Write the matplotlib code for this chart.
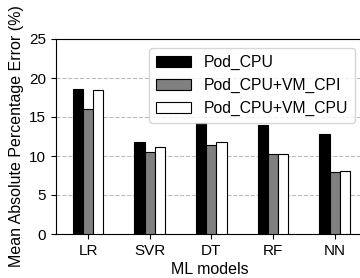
import matplotlib
matplotlib.use("Agg")
from matplotlib import pyplot as plt
import numpy as np

# data
models = ['LR', 'SVR', 'DT', 'RF', 'NN']
pod_cpu = [18.6, 11.8, 14.2, 14.0, 12.8]
pod_cpu_vm_cpi = [16.0, 10.5, 11.4, 10.25, 7.9]
pod_cpu_vm_cpu = [18.45, 11.2, 11.8, 10.2, 8.1]

plt.rcParams['font.family'] = ['Liberation Sans', 'DejaVu Sans']
plt.rcParams['font.size'] = 11

fig = plt.figure(figsize=(3.6, 2.78), dpi=100)
ax = fig.add_axes([56 / 360, 44 / 278, 1.01 - 56 / 360, 195 / 278])

x = np.arange(len(models))
w = 0.165
ax.bar(x - w, pod_cpu, w, color='black', edgecolor='black', linewidth=0.8,
       label='Pod_CPU', zorder=3)
ax.bar(x, pod_cpu_vm_cpi, w, color='#808080', edgecolor='black', linewidth=0.8,
       label='Pod_CPU+VM_CPI', zorder=3)
ax.bar(x + w, pod_cpu_vm_cpu, w, color='white', edgecolor='black', linewidth=0.8,
       label='Pod_CPU+VM_CPU', zorder=3)

ax.set_xlim(-0.52, 4.47)
ax.set_ylim(0, 25)
ax.set_yticks([0, 5, 10, 15, 20, 25])
ax.set_xticks(x)
ax.set_xticklabels(models, fontsize=11)
ax.tick_params(axis='y', labelsize=11)
ax.yaxis.grid(True, linestyle='--', color='#bbbbbb', linewidth=0.8, zorder=0)

ax.set_ylabel('Mean Absolute Percentage Error (%)', fontsize=11.5)
ax.set_xlabel('ML models', fontsize=11.5, labelpad=3)

ax.legend(loc='upper right', fontsize=11.3, handlelength=2.2,
          borderpad=0.45, labelspacing=0.5, handletextpad=0.8,
          borderaxespad=0.55)

fig.savefig('out.png', dpi=100)
